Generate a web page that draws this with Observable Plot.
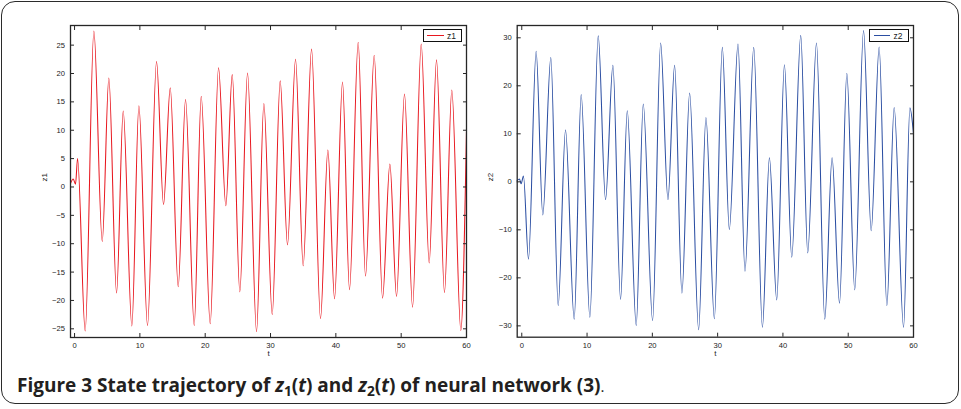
<!DOCTYPE html>
<html>
<head>
<meta charset="utf-8">
<script src="https://cdn.jsdelivr.net/npm/d3@7"></script>
<script src="https://cdn.jsdelivr.net/npm/@observablehq/plot@0.6"></script>
<style>
  html, body { margin: 0; padding: 0; background: #fff; }
  #page { position: relative; width: 961px; height: 409px; overflow: hidden; background: #fff; }
  #border { position: absolute; left: 0.5px; top: 0.5px; width: 956px; height: 401px; border: 1.5px solid #2b2b2b; border-radius: 14px; }
  .panel { position: absolute; top: 0; }
  .legend { position: absolute; box-sizing: border-box; border: 1px solid #111; background: #fff; height: 12.5px; font-family: Arial, "Liberation Sans", sans-serif; font-size: 8.5px; color: #222; }
  .legend .ln { position: absolute; left: 3.5px; top: 5px; width: 16.5px; height: 0; border-top: 1.1px solid; }
  .legend .tx { position: absolute; left: 23.5px; top: 0.5px; line-height: 10px; }
  #caption { position: absolute; left: 17px; top: 372px; font-family: "Open Sans", sans-serif; font-weight: 700; font-size: 19px; color: #231f20; white-space: nowrap; }
  #caption .sb { font-size: 0.72em; position: relative; top: 0.3em; font-style: normal; }
  #caption .end { font-weight: 400; font-size: 0.8em; }
</style>
</head>
<body>
<div id="page">
  <div id="border"></div>
  <div id="p1" class="panel" style="left:0px"></div>
  <div id="p2" class="panel" style="left:480px"></div>
  <div class="legend" style="left:422.5px; top:29px; width:39.5px;"><span class="ln" style="color:#e8171f"></span><span class="tx">z1</span></div>
  <div class="legend" style="left:869px; top:29px; width:40px;"><span class="ln" style="color:#2b4ea2"></span><span class="tx">z2</span></div>
  <div id="caption">Figure 3 State trajectory of <i>z</i><span class="sb">1</span>(<i>t</i>) and <i>z</i><span class="sb">2</span>(<i>t</i>) of neural network (3)<span class="end">.</span></div>
</div>
<script>
// z1(t): local extrema
const z1T = [-0.62, -0.2, 0.15, 0.46, 1.63, 2.96, 4.24, 5.25, 6.43, 7.45, 8.77, 9.85, 11.17, 12.55, 13.62, 14.65, 15.87, 16.99, 18.32, 19.39, 20.77, 22.04, 23.16, 24.14, 25.3, 26.48, 27.86, 28.98, 30.26, 31.48, 32.6, 33.83, 35.0, 36.28, 37.65, 38.78, 39.8, 41.02, 42.09, 43.42, 44.54, 45.87, 47.15, 48.27, 49.29, 50.51, 51.74, 53.07, 54.29, 55.41, 56.63, 57.75, 59.13, 60];
const z1V = [0.6, 1.4, 0.5, 5.0, -25.4, 27.5, -9.6, 19.2, -18.7, 13.4, -24.5, 14.3, -24.4, 22.1, -3.1, 17.5, -17.6, 15.4, -24.4, 16.0, -24.1, 21.0, -3.3, 19.8, -18.5, 20.1, -25.5, 14.7, -22.5, 18.7, -10.2, 22.5, -13.9, 24.3, -23.2, 6.5, -19.7, 18.5, -18.1, 25.5, -15.7, 23.2, -19.6, 4.05, -19.3, 16.4, -21.2, 25.2, -13.4, 22.4, -18.6, 17.1, -25.3, 9.8];

// z2(t): local extrema
const z2T = [-0.7, -0.35, -0.1, 0.26, 1.03, 2.2, 3.22, 4.45, 5.58, 6.7, 8.03, 9.1, 10.43, 11.71, 12.83, 13.96, 15.13, 16.16, 17.53, 18.61, 20.04, 21.27, 22.39, 23.41, 24.53, 25.71, 27.09, 28.21, 29.5, 30.72, 31.79, 33.12, 34.19, 35.53, 36.86, 37.93, 39.05, 40.23, 41.35, 42.73, 43.8, 45.14, 46.41, 47.53, 48.67, 49.79, 51.0, 52.35, 53.52, 54.74, 55.92, 57.04, 58.48, 59.45, 60];
const z2V = [0.3, 0.6, -0.4, 1.2, -16.1, 27.2, -6.9, 25.9, -25.8, 10.8, -28.6, 18.2, -28.2, 30.4, -3.7, 24.3, -24.5, 14.8, -29.9, 16.2, -28.9, 28.9, -3.7, 24.3, -23.2, 18.5, -30.8, 13.4, -28.5, 28.0, -9.9, 28.7, -18.6, 28.0, -30.3, 5.0, -24.6, 24.4, -15.7, 30.5, -14.8, 28.9, -28.6, 5.0, -25.3, 22.6, -22.5, 31.5, -10.2, 28.1, -25.8, 15.5, -30.3, 15.4, 10.0];

// tick values
const tTicks = [0, 10, 20, 30, 40, 50, 60];
const z1Ticks = [-25, -20, -15, -10, -5, 0, 5, 10, 15, 20, 25];
const z2Ticks = [-30, -20, -10, 0, 10, 20, 30];

function panel({T, V, color, xDomain, yDomain, yTicks, yLabel, width, height, ml, mr, mt, mb, yLabelDx}) {
  return Plot.plot({
    width, height,
    marginLeft: ml, marginRight: mr, marginTop: mt, marginBottom: mb,
    x: {domain: xDomain},
    y: {domain: yDomain},
    style: {fontFamily: "Arial, 'Liberation Sans', sans-serif", fontSize: "7.6px", color: "#222", background: "transparent", overflow: "visible"},
    marks: [
      Plot.line(V, {x: T, y: V, stroke: color, strokeWidth: 1.05, curve: "monotone-x"}),
      Plot.frame({stroke: "#262626", strokeWidth: 1.3}),
      Plot.axisX(tTicks, {anchor: "bottom", tickSize: 0, tickPadding: 5, label: null}),
      Plot.axisX(tTicks, {anchor: "bottom", tickSize: 4, dy: -4, fill: "none", label: null, stroke: "#262626"}),
      Plot.axisX(tTicks, {anchor: "top", tickSize: 4, dy: 4, fill: "none", label: null, stroke: "#262626"}),
      Plot.axisY(yTicks, {anchor: "left", tickSize: 0, tickPadding: 5.5, label: null}),
      Plot.axisY(yTicks, {anchor: "left", tickSize: 4, dx: 4, fill: "none", label: null, stroke: "#262626"}),
      Plot.axisY(yTicks, {anchor: "right", tickSize: 4, dx: -4, fill: "none", label: null, stroke: "#262626"}),
      Plot.text(["t"], {frameAnchor: "bottom", dy: 18.5, fill: "#222", fontSize: 8}),
      Plot.text([yLabel], {frameAnchor: "left", dx: yLabelDx, rotate: -90, fill: "#222", fontSize: 8})
    ]
  });
}

document.getElementById("p1").appendChild(panel({
  T: z1T, V: z1V, color: "#e8171f",
  xDomain: [-0.62, 60], yDomain: [-26.53, 28.46], yTicks: z1Ticks, yLabel: "z1",
  width: 480, height: 370, ml: 70, mr: 14, mt: 25, mb: 33, yLabelDx: -25.7
}));
document.getElementById("p2").appendChild(panel({
  T: z2T, V: z2V, color: "#2b4ea2",
  xDomain: [-0.7, 60], yDomain: [-32.36, 32.56], yTicks: z2Ticks, yLabel: "z2",
  width: 481, height: 370, ml: 36.7, mr: 48, mt: 25, mb: 33.3, yLabelDx: -26.7
}));
</script>
</body>
</html>
